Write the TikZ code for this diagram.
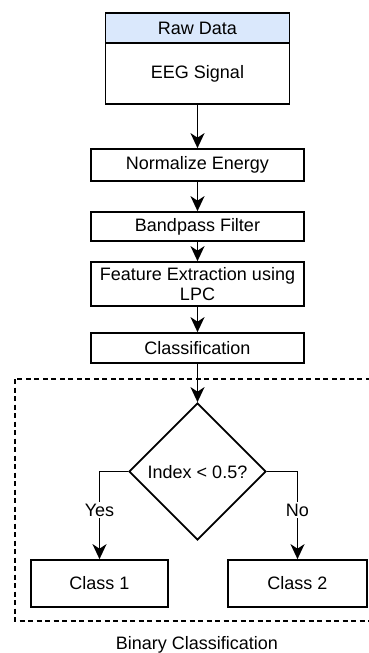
\documentclass[tikz,border=0pt]{standalone}
\usepackage{fontspec}
\setmainfont{Liberation Sans}
\usetikzlibrary{shapes.geometric,arrows.meta}
\definecolor{hdrblue}{HTML}{DAE8FC}
\tikzset{
  box/.style={draw=black, line width=1.7pt, rectangle, inner sep=0pt, align=center, font=\fontsize{18}{20.5}\selectfont},
  conn/.style={line width=1.7pt, arrows={-Stealth[length=15pt,width=14pt,inset=4.5pt]}},
  lbl/.style={fill=white, inner sep=1.5pt, font=\fontsize{18}{20.5}\selectfont},
}
\begin{document}
\begin{tikzpicture}[x=1pt,y=-1pt]
\useasboundingbox (0,0) rectangle (369,653);
\begin{scope}
\clip (0,0) rectangle (369,653);
\draw[line width=1.5pt, dash pattern=on 5pt off 3.5pt] (15,379) rectangle (380,621);
\end{scope}
\node[box, fill=hdrblue, minimum width=184pt, minimum height=30pt] (hdr) at (197.5,28) {Raw Data};
\node[box, minimum width=184pt, minimum height=61pt] (eeg) at (197.5,73.5) {EEG Signal};
\node[box, minimum width=213pt, minimum height=32pt] (norm) at (197.5,165) {Normalize Energy};
\node[box, minimum width=213pt, minimum height=29pt] (band) at (197.5,226.5) {Bandpass Filter};
\node[box, minimum width=213pt, minimum height=44pt] (feat) at (197.5,284) {Feature Extraction using\\LPC};
\node[box, minimum width=213pt, minimum height=30pt] (cls) at (197.5,348) {Classification};
\node[draw=black, line width=1.7pt, diamond, minimum width=137pt, minimum height=137pt, inner sep=0pt] (dec) at (197.5,471.5) {};
\node[font=\fontsize{18}{20.5}\selectfont] (dectxt) at (197.5,472) {Index < 0.5?};
\node[box, minimum width=137pt, minimum height=47pt] (c1) at (99.5,583.5) {Class 1};
\node[box, minimum width=139pt, minimum height=47pt] (c2) at (297.5,583.5) {Class 2};
\node[font=\fontsize{18}{20.5}\selectfont] (bin) at (197,645) {Binary Classification};
\draw[conn] (eeg.south) -- (norm.north);
\draw[conn] (norm.south) -- (band.north);
\draw[conn] (band.south) -- (feat.north);
\draw[conn] (feat.south) -- (cls.north);
\draw[conn] (cls.south) -- (dec.north);
\draw[conn] (dec.west) -| node[lbl, pos=0.72] (yes) {Yes} (c1.north);
\draw[conn] (dec.east) -| node[lbl, pos=0.72] (no) {No} (c2.north);
\end{tikzpicture}
\end{document}
